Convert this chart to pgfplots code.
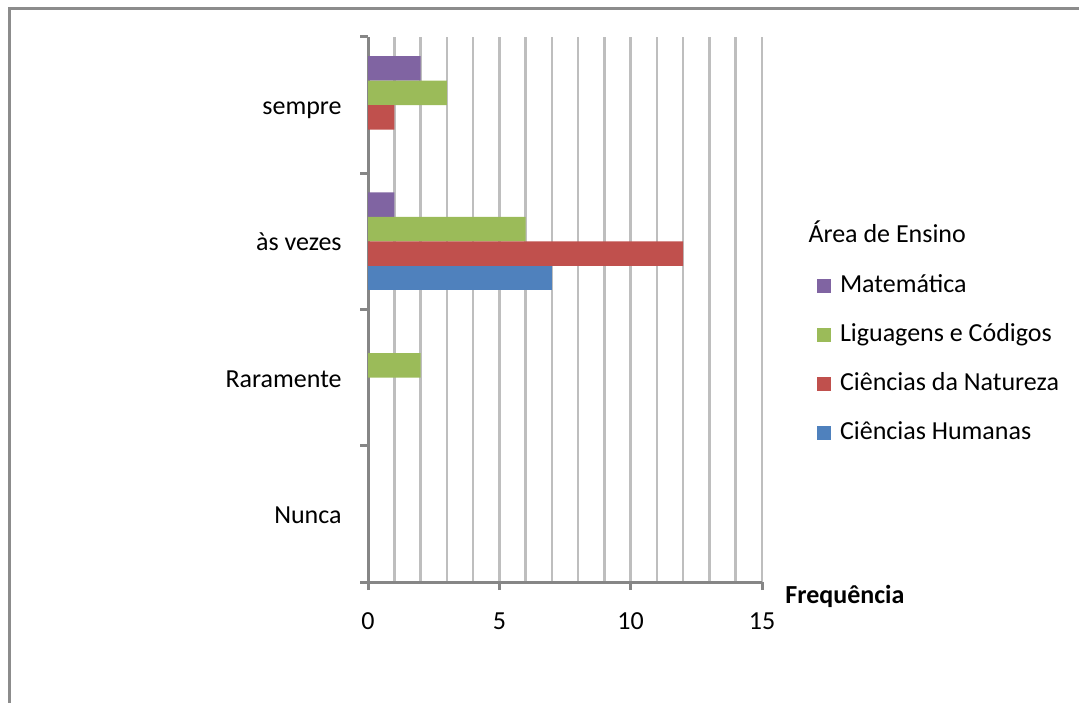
\documentclass[border=0pt]{standalone}
\usepackage{fontspec}
\setmainfont{Carlito}
\usepackage{pgfplots}
\usepackage{pgfplotstable}
\pgfplotsset{compat=1.18}

\definecolor{mat}{HTML}{8064A2}
\definecolor{lig}{HTML}{9BBB59}
\definecolor{nat}{HTML}{C0504D}
\definecolor{hum}{HTML}{4F81BD}
\definecolor{axisgray}{HTML}{868686}
\definecolor{gridgray}{HTML}{BEBEBE}
\definecolor{framegray}{HTML}{8C8C8C}

% frequency per answer (0 = Nunca, 1 = Raramente, 2 = às vezes, 3 = sempre)
\pgfplotstableread{
cat mat lig nat hum
0   0   0   0   0
1   0   2   0   0
2   1   6   12  7
3   2   3   1   0
}\freq

\newcommand{\lblfont}{\fontsize{13}{15}\selectfont}

\begin{document}
\begin{tikzpicture}[x=1pt,y=1pt]
\useasboundingbox (0,0) rectangle (539.5,351);
\draw[line width=1.5pt, color=framegray] (4.5,-5) -- (4.5,346.5) -- (560,346.5);
\begin{axis}[
  at={(184pt,60pt)}, anchor=south west,
  scale only axis, width=197pt, height=272.5pt,
  xmin=0, xmax=15, ymin=-0.5, ymax=3.5,
  clip=false,
  xbar, bar width=0.18,
  % empty categories get no bar at all
  x filter/.expression={x==0 ? nan : x},
  unbounded coords=discard,
  axis x line=bottom, axis y line=left,
  axis line style={-, draw=axisgray, line width=1.5pt},
  xtick={0,5,10,15},
  minor x tick num=4,
  xmajorgrids, xminorgrids, ymajorgrids=false, yminorgrids=false,
  major grid style={draw=gridgray, line width=1.25pt},
  minor grid style={draw=gridgray, line width=1.25pt},
  minor tick length=0pt,
  major tick length=4pt,
  tick align=outside,
  tick style={draw=axisgray, line width=1.5pt},
  % category ticks sit on the band boundaries, names in between
  ytick={-0.5,0.5,1.5,2.5,3.5},
  yticklabels={Nunca, Raramente, às vezes, sempre},
  y tick label as interval,
  /pgf/number format/assume math mode=true,
  tick label style={font=\lblfont, text=black},
  yticklabel style={anchor=base east, inner sep=0pt, xshift=-9pt, yshift=-4.75pt},
  xticklabel style={anchor=north, inner sep=0pt, yshift=-11pt},
  xlabel={\bfseries Frequência},
  xlabel style={font=\lblfont, anchor=west, inner sep=0pt, at={(rel axis cs:1,0)}, xshift=11.5pt, yshift=-7pt},
  legend style={at={(rel axis cs:1.1396,0.565)}, anchor=north west, draw=none, fill=none,
    inner sep=0pt, outer sep=0pt, row sep=12.5pt, column sep=4.5pt, font=\lblfont,
    nodes={inner sep=0pt, text height=9pt, text depth=3pt}},
  legend cell align=left,
  sq/.style={legend image code/.code={\fill[##1] (0pt,-3.5pt) rectangle (7pt,3.5pt);}},
]
\addplot[fill=mat, draw=none, bar shift=0.27, sq] table[x=mat, y=cat] {\freq};
\addlegendentry{Matemática}
\addplot[fill=lig, draw=none, bar shift=0.09, sq] table[x=lig, y=cat] {\freq};
\addlegendentry{Liguagens e Códigos}
\addplot[fill=nat, draw=none, bar shift=-0.09, sq] table[x=nat, y=cat] {\freq};
\addlegendentry{Ciências da Natureza}
\addplot[fill=hum, draw=none, bar shift=-0.27, sq] table[x=hum, y=cat] {\freq};
\addlegendentry{Ciências Humanas}
\node[anchor=west, inner sep=0pt, font=\lblfont] at (rel axis cs:1.117,0.642) {Área de Ensino};
\end{axis}
\end{tikzpicture}
\end{document}
